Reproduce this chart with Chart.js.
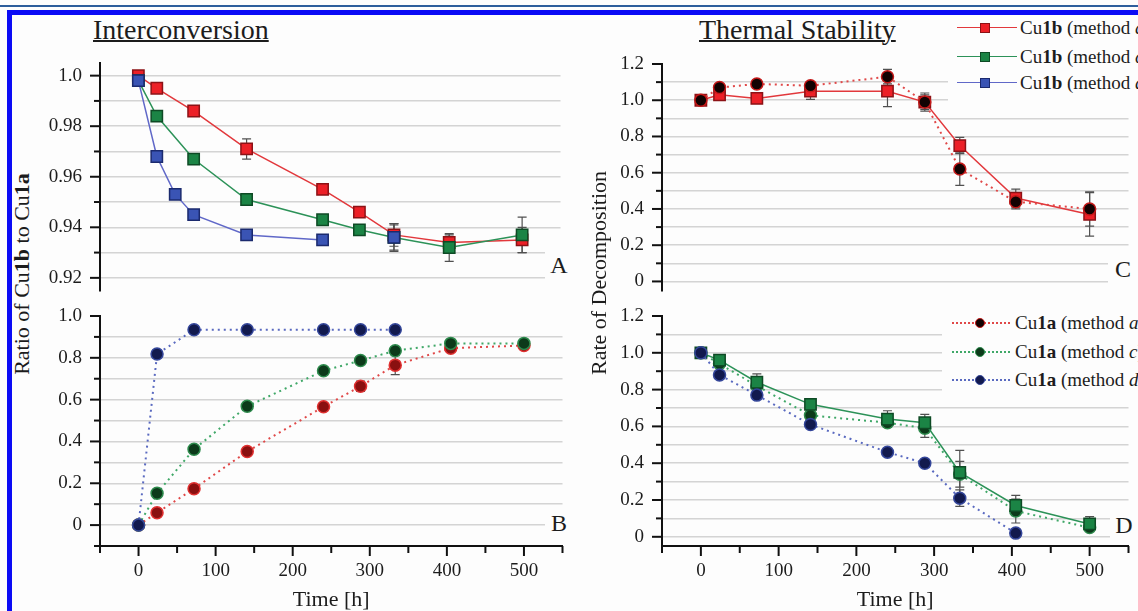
<!DOCTYPE html>
<html>
<head>
<meta charset="utf-8">
<script src="https://cdn.jsdelivr.net/npm/chart.js@4.4.1/dist/chart.umd.min.js"></script>
<style>
  html, body { margin: 0; padding: 0; background: #fff; }
  #page { position: relative; width: 1138px; height: 611px; overflow: hidden; background: #fdfdfd;
          font-family: "Liberation Serif", "Times New Roman", serif; color: #1c1c1c; }
  #page canvas { position: absolute; }
  .abs { position: absolute; white-space: nowrap; }
  .ptitle { font-size: 28px; line-height: 28px; text-decoration: underline; text-decoration-thickness: 1.5px; }
  .ytitle { font-size: 22px; line-height: 24px; width: 300px; text-align: center; transform: rotate(-90deg); }
  .letter { font-size: 24px; line-height: 30px; background: #fdfdfd; text-align: center; }
  .lgbox { position: absolute; background: #fdfdfd; }
  .lgtext { font-size: 19px; line-height: 24px; }
</style>
</head>
<body>
<div id="page">
  <canvas id="cA" width="530" height="250" style="left:40px;top:50px"></canvas>
  <canvas id="cB" width="530" height="311" style="left:40px;top:300px"></canvas>
  <canvas id="cC" width="558" height="250" style="left:580px;top:50px"></canvas>
  <canvas id="cD" width="558" height="311" style="left:580px;top:300px"></canvas>

  <div class="abs ptitle" style="left:93px;top:16px">Interconversion</div>
  <div class="abs ptitle" style="left:699px;top:16px">Thermal Stability</div>
  <div class="abs ytitle" style="left:-128px;top:262px">Ratio of Cu<b>1b</b> to Cu<b>1a</b></div>
  <div class="abs ytitle" style="left:449px;top:261px">Rate of Decomposition</div>

  <div class="abs letter" style="left:545px;top:244px;width:28px;height:42px;padding-top:6px;box-sizing:border-box">A</div>
  <div class="abs letter" style="left:545px;top:508px;width:28px;height:34px;">B</div>
  <div class="abs letter" style="left:1108px;top:252px;width:30px;height:38px;padding-top:2px;box-sizing:border-box">C</div>
  <div class="abs letter" style="left:1110px;top:510px;width:28px;height:32px;">D</div>

  <div id="legends"></div>

  <div class="abs" style="left:0;top:5px;width:1138px;height:2px;background:#2d5e9c"></div>
  <div class="abs" style="left:7px;top:10px;width:1131px;height:5px;background:#0b0bf5"></div>
  <div class="abs" style="left:7px;top:10px;width:5px;height:601px;background:#0b0bf5"></div>
</div>
<script>
// time points [h]
const hours = [0, 24, 72, 141, 240, 288, 333, 405, 500];
const hoursCu1bD = [0, 24, 48, 72, 141, 240, 288, 333];
const hoursCu1aD = [0, 24, 72, 141, 240, 288, 333];
const hoursDecompD = [0, 24, 72, 141, 240, 288, 333, 405];

// A: ratio, Cu1b
const ratioCu1bA = [1.000, 0.995, 0.986, 0.971, 0.955, 0.946, 0.937, 0.934, 0.935];
const ratioCu1bAErr = [0, 0, 0, 0.004, 0, 0, 0.0045, 0.003, 0.005];
const ratioCu1bC = [0.998, 0.984, 0.967, 0.951, 0.943, 0.939, 0.936, 0.932, 0.937];
const ratioCu1bCErr = [0, 0, 0, 0, 0, 0, 0.005, 0.0055, 0.007];
const ratioCu1bD = [0.998, 0.968, 0.953, 0.945, 0.937, 0.935, null, 0.936];
const ratioCu1bDErr = [0, 0, 0, 0, 0, 0, 0, 0.0055];

// B: ratio, Cu1a
const ratioCu1aA = [0, 0.059, 0.174, 0.352, 0.566, 0.664, 0.765, 0.846, 0.859];
const ratioCu1aAErr = [0, 0, 0, 0, 0, 0.025, 0.045, 0, 0];
const ratioCu1aC = [0, 0.152, 0.363, 0.568, 0.738, 0.787, 0.834, 0.869, 0.869];
const ratioCu1aD = [0, 0.818, 0.934, 0.934, 0.934, 0.934, 0.934];

// C: decomposition, method a
const decompCu1bA = [1.00, 1.03, 1.01, 1.05, 1.05, 0.99, 0.75, 0.46, 0.37];
const decompCu1bAErr = [0, 0.02, 0.01, 0.045, 0.085, 0.05, 0.045, 0.05, 0.12];
const decompCu1aA = [1.00, 1.07, 1.09, 1.08, 1.13, 0.99, 0.62, 0.44, 0.40];
const decompCu1aAErr = [0, 0.015, 0.01, 0.02, 0.04, 0.04, 0.09, 0.04, 0.095];

// D: decomposition, methods c and d
const decompCu1bC = [1.00, 0.96, 0.84, 0.72, 0.64, 0.62, 0.35, 0.17, 0.07];
const decompCu1bCErr = [0, 0.03, 0.045, 0.03, 0.045, 0.045, 0.12, 0.055, 0.04];
const decompCu1aC = [1.00, 0.94, 0.82, 0.66, 0.62, 0.59, 0.34, 0.14, 0.05];
const decompCu1aCErr = [0, 0, 0.03, 0, 0.02, 0.05, 0.07, 0.065, 0.02];
const decompCu1aD = [1.00, 0.88, 0.77, 0.61, 0.46, 0.40, 0.21, 0.02];
const decompCu1aDErr = [0, 0.02, 0.02, 0.02, 0.02, 0.02, 0.045, 0];

// tick values and labels
const timeTicks = [-50, 0, 50, 100, 150, 200, 250, 300, 350, 400, 450, 500, 550];
const timeLabels = ['', '0', '', '100', '', '200', '', '300', '', '400', '', '500', ''];
const ratioTopTicks = [0.92, 0.93, 0.94, 0.95, 0.96, 0.97, 0.98, 0.99, 1.0];
const ratioTopLabels = ['0.92', '', '0.94', '', '0.96', '', '0.98', '', '1.0'];
const ratioBottomTicks = [-0.1, 0, 0.1, 0.2, 0.3, 0.4, 0.5, 0.6, 0.7, 0.8, 0.9, 1.0];
const ratioBottomLabels = ['', '0', '', '0.2', '', '0.4', '', '0.6', '', '0.8', '', '1.0'];
const decompTicks = [0, 0.1, 0.2, 0.3, 0.4, 0.5, 0.6, 0.7, 0.8, 0.9, 1.0, 1.1, 1.2];
const decompLabels = ['0', '', '0.2', '', '0.4', '', '0.6', '', '0.8', '', '1.0', '', '1.2'];

const styles = {
  bA: { line: '#e2383c', fill: '#ec2027', edge: '#8c1216', shape: 'rect' },
  bC: { line: '#2c9258', fill: '#1b8445', edge: '#0e4a25', shape: 'rect' },
  bD: { line: '#6068c8', fill: '#3a54b4', edge: '#1b2a6e', shape: 'rect' },
  aA: { line: '#e04848', fill: '#120202', edge: '#c41818', shape: 'circle', dash: [2, 4] },
  aAred: { line: '#e04848', fill: '#8a1010', edge: '#e03030', shape: 'circle', dash: [2, 4] },
  aC: { line: '#40a868', fill: '#0c3a1a', edge: '#2d8a4c', shape: 'circle', dash: [2, 4] },
  aD: { line: '#5a6ac0', fill: '#121a4e', edge: '#34469a', shape: 'circle', dash: [2, 4] }
};

const FONT = '"Liberation Serif", "Times New Roman", serif';
Chart.defaults.font.family = FONT;

const errorBars = {
  id: 'errorBars',
  beforeDatasetsDraw(chart) {
    const { ctx, scales: { x, y } } = chart;
    ctx.save();
    ctx.strokeStyle = '#505050';
    ctx.lineWidth = 1.2;
    chart.data.datasets.forEach(ds => {
      if (!ds.errors) return;
      ds.data.forEach((p, i) => {
        const e = ds.errors[i];
        if (!e || p.y == null) return;
        const px = x.getPixelForValue(p.x);
        const t = y.getPixelForValue(p.y + e), b = y.getPixelForValue(p.y - e);
        ctx.beginPath();
        ctx.moveTo(px, t); ctx.lineTo(px, b);
        ctx.moveTo(px - 4.5, t); ctx.lineTo(px + 4.5, t);
        ctx.moveTo(px - 4.5, b); ctx.lineTo(px + 4.5, b);
        ctx.stroke();
      });
    });
    ctx.restore();
  }
};

// major / minor tick marks on the axes
const tickMarks = {
  id: 'tickMarks',
  afterDraw(chart) {
    const { ctx, chartArea: area, scales: { x, y } } = chart;
    ctx.save();
    ctx.strokeStyle = '#111';
    ctx.lineWidth = 2;
    y.ticks.forEach(t => {
      const py = y.getPixelForValue(t.value);
      const len = t.label ? 10 : 6;
      ctx.beginPath(); ctx.moveTo(area.left - len, py); ctx.lineTo(area.left, py); ctx.stroke();
    });
    if (x.options.display) {
      x.ticks.forEach(t => {
        const px = x.getPixelForValue(t.value);
        const len = t.label ? 10 : 7;
        ctx.beginPath(); ctx.moveTo(px, area.bottom); ctx.lineTo(px, area.bottom + len); ctx.stroke();
      });
    }
    ctx.restore();
  }
};

function lineSet(label, xs, ys, errs, st, order) {
  return {
    label: label,
    data: xs.map((h, i) => ({ x: h, y: ys[i] })),
    errors: errs,
    borderColor: st.line,
    borderWidth: st.dash ? 2 : 1.5,
    borderDash: st.dash || [],
    pointStyle: st.shape,
    pointRadius: st.shape === 'rect' ? 8 : 6,
    pointBackgroundColor: st.fill,
    pointBorderColor: st.edge,
    pointBorderWidth: 1.5,
    tension: 0,
    spanGaps: false,
    fill: false,
    clip: false,
    order: order
  };
}

function panel(id, datasets, ax) {
  new Chart(document.getElementById(id), {
    type: 'line',
    data: { datasets: datasets },
    options: {
      responsive: false,
      animation: false,
      events: [],
      layout: { padding: ax.pad },
      plugins: { legend: { display: false }, tooltip: { enabled: false } },
      scales: {
        x: {
          type: 'linear', min: -50, max: 550, display: ax.time,
          afterBuildTicks: s => { s.ticks = timeTicks.map(v => ({ value: v })); },
          afterFit: s => { s.height = ax.time ? 65 : 0; s.paddingLeft = 0; s.paddingRight = 0; },
          grid: { display: false, drawTicks: false },
          border: { display: true, color: '#111', width: 2 },
          ticks: {
            autoSkip: false, maxRotation: 0, padding: 14, color: '#1c1c1c',
            font: { family: FONT, size: 19 },
            callback: (v, i) => timeLabels[i]
          },
          title: {
            display: true, text: 'Time [h]', color: '#1c1c1c', padding: 0,
            font: { family: FONT, size: 22, lineHeight: 1 }
          }
        },
        y: {
          type: 'linear', min: ax.min, max: ax.max,
          afterBuildTicks: s => { s.ticks = ax.ticks.map(v => ({ value: v })); },
          afterFit: s => { s.width = ax.width; s.paddingTop = 0; s.paddingBottom = 0; },
          grid: {
            drawTicks: false, lineWidth: 1.5,
            color: c => (c.tick && c.tick.value > ax.gridFrom - 1e-6 && c.tick.value < ax.gridTo + 1e-6) ? '#d4d4d4' : 'rgba(0,0,0,0)'
          },
          border: { display: true, color: '#111', width: 2 },
          ticks: {
            autoSkip: false, padding: 18, color: '#1c1c1c',
            font: { family: FONT, size: 19 },
            callback: (v, i) => ax.labels[i]
          }
        }
      }
    },
    plugins: [errorBars, tickMarks]
  });
}

panel('cA', [
  lineSet('Cu1b (method a)', hours, ratioCu1bA, ratioCu1bAErr, styles.bA, 3),
  lineSet('Cu1b (method c)', hours, ratioCu1bC, ratioCu1bCErr, styles.bC, 2),
  lineSet('Cu1b (method d)', hoursCu1bD, ratioCu1bD, ratioCu1bDErr, styles.bD, 1)
], { min: 0.915, max: 1.005, ticks: ratioTopTicks, labels: ratioTopLabels, gridFrom: 0.92, gridTo: 1.0,
     width: 60, time: false, pad: { left: 0, right: 4, top: 13, bottom: 7 } });

panel('cB', [
  lineSet('Cu1a (method a)', hours, ratioCu1aA, ratioCu1aAErr, styles.aAred, 3),
  lineSet('Cu1a (method c)', hours, ratioCu1aC, null, styles.aC, 2),
  lineSet('Cu1a (method d)', hoursCu1aD, ratioCu1aD, null, styles.aD, 1)
], { min: -0.1, max: 1.0, ticks: ratioBottomTicks, labels: ratioBottomLabels, gridFrom: 0, gridTo: 0.9,
     width: 60, time: true, pad: { left: 0, right: 4, top: 16, bottom: 0 } });

panel('cC', [
  lineSet('Cu1b (method a)', hours, decompCu1bA, decompCu1bAErr, styles.bA, 2),
  lineSet('Cu1a (method a)', hours, decompCu1aA, decompCu1aAErr, styles.aA, 1)
], { min: -0.05, max: 1.2, ticks: decompTicks, labels: decompLabels, gridFrom: 0, gridTo: 1.1,
     width: 82, time: false, pad: { left: 0, right: 7, top: 14, bottom: 7 } });

panel('cD', [
  lineSet('Cu1b (method c)', hours, decompCu1bC, decompCu1bCErr, styles.bC, 2),
  lineSet('Cu1a (method c)', hours, decompCu1aC, decompCu1aCErr, styles.aC, 3),
  lineSet('Cu1a (method d)', hoursDecompD, decompCu1aD, decompCu1aDErr, styles.aD, 1)
], { min: -0.05, max: 1.2, ticks: decompTicks, labels: decompLabels, gridFrom: 0, gridTo: 1.1,
     width: 82, time: true, pad: { left: 0, right: 7, top: 16, bottom: 0 } });

// legends
const legendCu1b = [['a', styles.bA], ['c', styles.bC], ['d', styles.bD]];
const legendCu1a = [['a', styles.aA], ['c', styles.aC], ['d', styles.aD]];

function legend(box, rowsY, lineX, markX, textX, items, name) {
  let html = '<div class="lgbox" style="left:' + box[0] + 'px;top:' + box[1] + 'px;width:' + box[2] + 'px;height:' + box[3] + 'px"></div>';
  items.forEach((it, i) => {
    const st = it[1], y = rowsY[i];
    const round = st.shape === 'circle';
    const lineCss = round ? '2px dotted ' + st.line : '1.5px solid ' + st.line;
    html += '<div class="abs" style="left:' + lineX[0] + 'px;top:' + (y - 1) + 'px;width:' + (lineX[1] - lineX[0]) + 'px;height:0;border-top:' + lineCss + '"></div>';
    html += '<div class="abs" style="left:' + (markX - 5) + 'px;top:' + (y - 5) + 'px;width:10px;height:10px;box-sizing:border-box;background:' + st.fill +
            ';border:1.5px solid ' + st.edge + ';border-radius:' + (round ? '50%' : '0') + '"></div>';
    html += '<div class="abs lgtext" style="left:' + textX + 'px;top:' + (y - 12) + 'px">' + name + ' (method <i>' + it[0] + '</i>)</div>';
  });
  return html;
}

document.getElementById('legends').innerHTML =
  legend([948, 16, 190, 86], [28, 57, 83], [957, 1017], 985, 1020, legendCu1b, 'Cu<b>1b</b>') +
  legend([942, 306, 196, 92], [323, 352, 380], [952, 1010], 980, 1015, legendCu1a, 'Cu<b>1a</b>');
</script>
</body>
</html>
